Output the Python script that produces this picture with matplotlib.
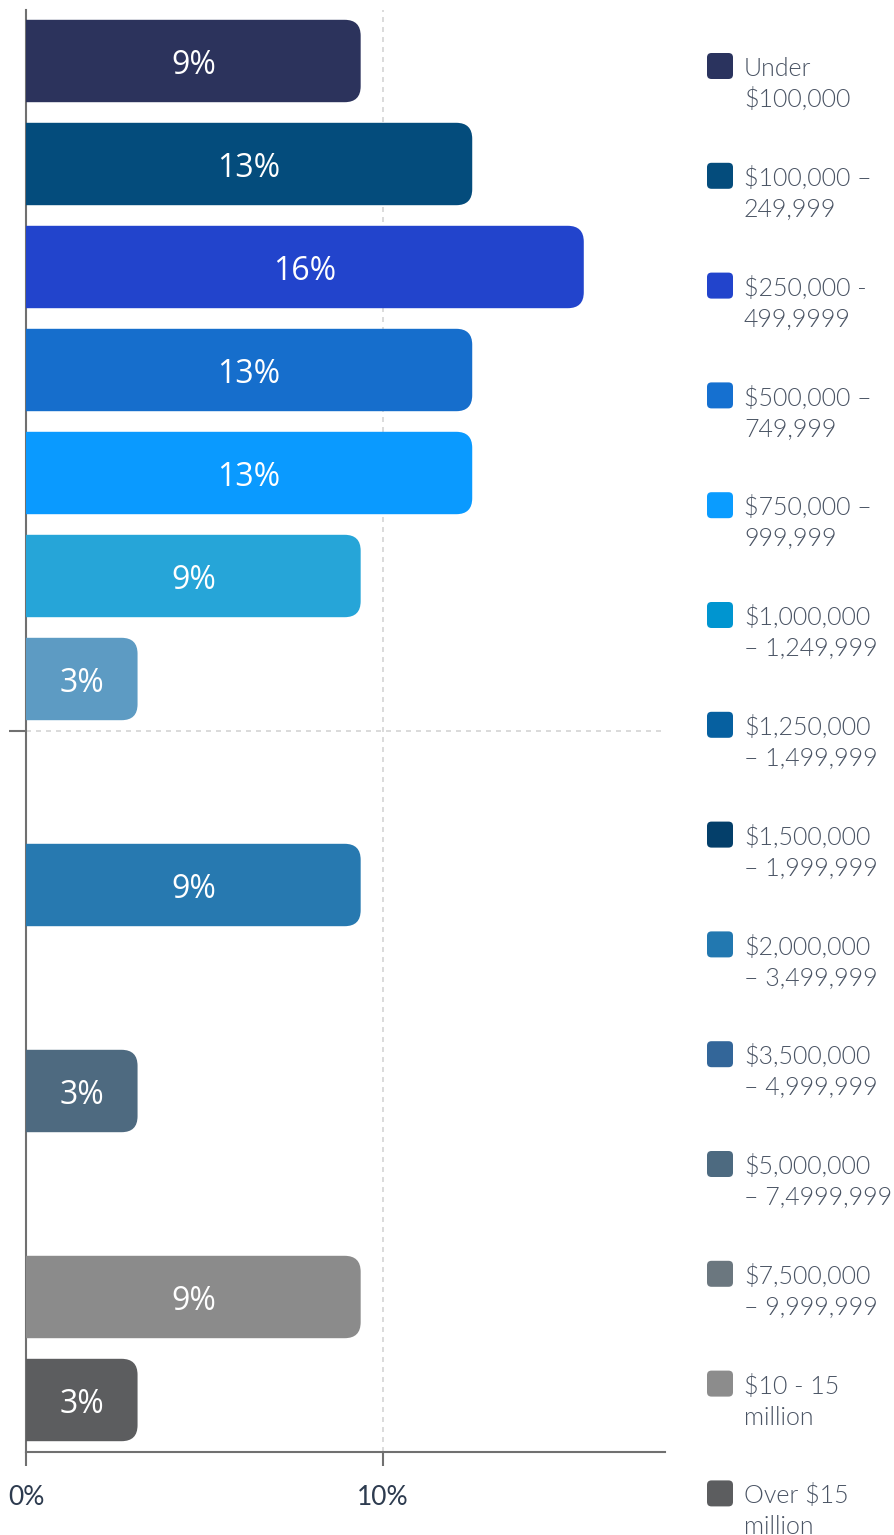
import matplotlib.pyplot as plt
from matplotlib.patches import FancyBboxPatch

# share of respondents per bracket (out of 32 answers)
categories = [
    "Under\n$100,000",
    "$100,000 –\n249,999",
    "$250,000 -\n499,9999",
    "$500,000 –\n749,999",
    "$750,000 –\n999,999",
    "$1,000,000\n– 1,249,999",
    "$1,250,000\n– 1,499,999",
    "$1,500,000\n– 1,999,999",
    "$2,000,000\n– 3,499,999",
    "$3,500,000\n– 4,999,999",
    "$5,000,000\n– 7,4999,999",
    "$7,500,000\n– 9,999,999",
    "$10 - 15\nmillion",
    "Over $15\nmillion",
]
values = [9.375, 12.5, 15.625, 12.5, 12.5, 9.375, 3.125, 0,
          9.375, 0, 3.125, 0, 9.375, 3.125]
bar_colors = ["#2c335c", "#044c7c", "#2244cc", "#166ecc", "#0a9aff", "#26a5d8",
              "#5d9bc3", "#043f6a", "#2779b0", "#336699", "#4e6a80", "#6b777f",
              "#8b8b8b", "#5c5d5f"]
legend_colors = ["#2a335e", "#044c7c", "#2244cc", "#1570d0", "#0a9cff", "#0095d0",
                 "#0660a0", "#043f6a", "#2278b0", "#336699", "#4d6a80", "#6b777f",
                 "#8c8c8c", "#5c5d5f"]
x_ticks = [0, 10]
x_ticklabels = ["0%", "10%"]

W, H = 895, 1535
fig = plt.figure(figsize=(W / 100, H / 100), dpi=100)
ax = fig.add_axes([26 / W, 1 - 1451.5 / H, 639 / W, 1442 / H])

xmax = 17.9
n = len(categories)
ax.set_xlim(0, xmax)
ax.set_ylim(n - 0.5, -0.5)

# keep corner radius round in pixels
px_x = xmax / 639
px_y = n / 1442
aspect = px_y / px_x
radius = 16 * px_x
bar_h = 0.8

for i, (v, c) in enumerate(zip(values, bar_colors)):
    if v <= 0:
        continue
    box = FancyBboxPatch((-1, i - bar_h / 2), v + 1, bar_h,
                         boxstyle=f"round,pad=0,rounding_size={radius}",
                         mutation_aspect=aspect, facecolor=c, edgecolor="none",
                         zorder=3)
    ax.add_patch(box)
    ax.text(v / 2, i + 0.04, f"{int(v + 0.5)}%", color="white", ha="center",
            va="center", fontsize=23, family="Open Sans", zorder=4)

ax.set_xticks(x_ticks)
ax.set_xticklabels(x_ticklabels, family="Lato", fontsize=19, color="#2d3b4f")
ax.set_yticks([(n - 1) / 2])
ax.set_yticklabels([""])
ax.tick_params(axis="x", length=10, width=1.5, color="#707070", pad=14)
ax.tick_params(axis="y", length=12, width=1.5, color="#707070")
ax.grid(True, color="#d4d4d4", linestyle=(0, (3, 3)), linewidth=1.2, zorder=0)
ax.set_axisbelow(True)
for side in ["top", "right"]:
    ax.spines[side].set_visible(False)
for side in ["left", "bottom"]:
    ax.spines[side].set_color("#707070")
    ax.spines[side].set_linewidth(1.5)


def fy(py):
    return 1 - py / H


# legend on the right, drawn by hand
for i, (label, c) in enumerate(zip(categories, legend_colors)):
    yc = 66 + i * 109.8
    sq = FancyBboxPatch((707 / W, fy(yc + 13)), 26 / W, 26 / H,
                        boxstyle="round,pad=0,rounding_size=0.005",
                        mutation_aspect=W / H, transform=fig.transFigure,
                        facecolor=c, edgecolor="none")
    fig.patches.append(sq)
    for k, line in enumerate(label.split("\n")):
        fig.text(744 / W, fy(yc + 10 + 31 * k), line, family="Lato",
                 weight=300, fontsize=18, color="#4a5464", va="baseline")

fig.savefig("out.png", dpi=100)
